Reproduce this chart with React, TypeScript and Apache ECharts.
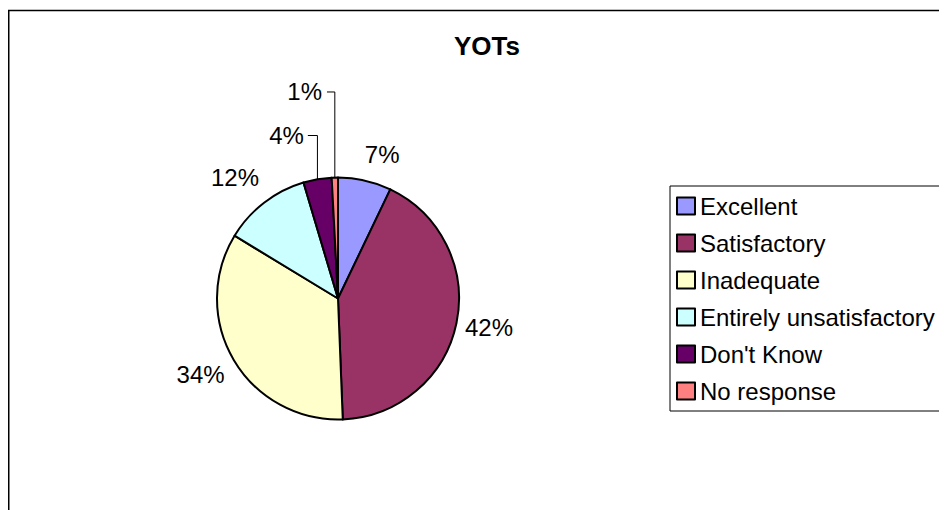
import React, { useEffect, useRef } from "react";
import * as echarts from "echarts";

const titleText = "YOTs";
const categories = [
  "Excellent",
  "Satisfactory",
  "Inadequate",
  "Entirely unsatisfactory",
  "Don't Know",
  "No response",
];
const counts = [17, 101, 82, 28, 9, 2];
const colors = ["#9999FF", "#993366", "#FFFFCC", "#CCFFFF", "#660066", "#FF8080"];

// label placement styling (per slice)
const lineLength = [27, 24.5, 28, 32, 44.4, 85.6];
const lineLength2 = [0, 0, 0, 0, 2, 5.6];
const labelDistance = [-6, -15.5, -15, -14.5, 4, 5];
const showLine = [false, false, false, false, true, true];

const FONT = "'Liberation Sans', Arial, Helvetica, sans-serif";

export default function App() {
  const ref = useRef<HTMLDivElement>(null);
  useEffect(() => {
    if (!ref.current) return;
    const chart = echarts.init(ref.current, null, { renderer: "svg" });
    chart.setOption({
      animation: false,
      backgroundColor: "#fff",
      title: {
        text: titleText,
        left: 441,
        top: 20,
        textStyle: { fontSize: 26, fontWeight: "bold", color: "#000", fontFamily: FONT },
      },
      graphic: [
        {
          type: "rect",
          shape: { x: 0.75, y: 2.5, width: 3000, height: 3000 },
          style: { fill: "none", stroke: "#000", lineWidth: 1.5 },
          silent: true,
          z: 100,
        },
      ],
      legend: {
        orient: "vertical",
        left: 662,
        top: 178,
        padding: [8, 60, 8, 6],
        borderColor: "#000",
        borderWidth: 1,
        itemWidth: 18,
        itemHeight: 17,
        itemGap: 13,
        icon: "rect",
        itemStyle: { borderColor: "#000", borderWidth: 2 },
        textStyle: { fontSize: 24, lineHeight: 24, color: "#000", fontFamily: FONT },
        selectedMode: false,
        data: categories,
      },
      series: [
        {
          type: "pie",
          center: [330, 290.5],
          radius: 121,
          startAngle: 90,
          clockwise: true,
          avoidLabelOverlap: false,
          silent: true,
          emphasis: { disabled: true },
          itemStyle: { borderColor: "#000", borderWidth: 2 },
          label: {
            show: true,
            position: "outside",
            fontSize: 24,
            color: "#000",
            fontFamily: FONT,
            formatter: (p: any) => Math.round(p.percent) + "%",
          },
          labelLine: {
            show: false,
            lineStyle: { color: "#000", width: 1 },
          },
          labelLayout: (params: any) => {
            const pts = params.labelLinePoints;
            if (!showLine[params.dataIndex] || !pts || pts.length < 3) return {};
            return {
              labelLinePoints: [
                [pts[0][0], pts[0][1]],
                [pts[0][0], pts[1][1]],
                [pts[2][0], pts[2][1]],
              ],
            };
          },
          data: categories.map((name, i) => ({
            name,
            value: counts[i],
            itemStyle: { color: colors[i] },
            label: { distanceToLabelLine: labelDistance[i] },
            labelLine: {
              show: showLine[i],
              length: lineLength[i],
              length2: lineLength2[i],
            },
          })),
        },
      ],
    });
    return () => chart.dispose();
  }, []);
  return <div ref={ref} style={{ width: 939, height: 502 }} />;
}
